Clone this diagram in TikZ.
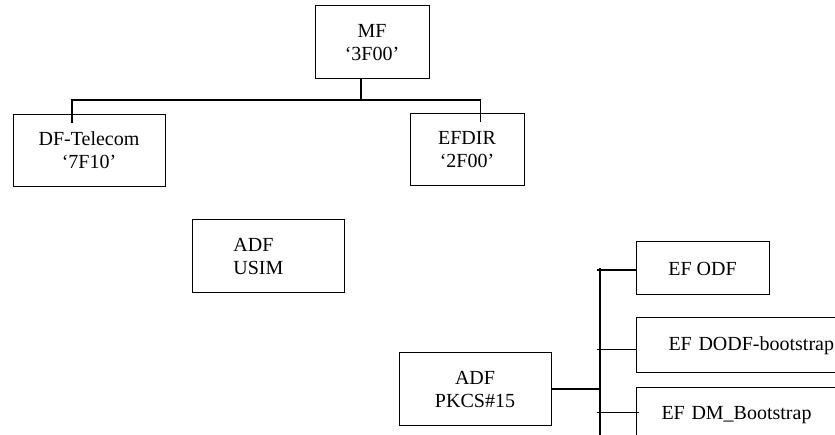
\documentclass[tikz,border=0pt]{standalone}
\usepackage{fontspec}
\setmainfont{Liberation Serif}
\usetikzlibrary{calc}

\begin{document}
\begin{tikzpicture}[x=1pt,y=-1pt,
  box/.style={draw,line width=1pt,inner sep=0pt,align=center,font=\fontsize{20}{23}\selectfont},
  link/.style={line width=1.5pt},
  branch/.style={line width=1.1pt}]
  \useasboundingbox (0,0) rectangle (835,435);
  \clip (0,0) rectangle (835,435);
  % MF 及其下两个文件
  \node[box,minimum width=114pt,minimum height=73pt] (mf) at (372,42.5) {MF\\‘3F00’};
  \node[box,minimum width=152pt,minimum height=72.5pt] (telecom) at (89,150.5) {DF-Telecom\\‘7F10’};
  \node[box,minimum width=114pt,minimum height=72pt] (efdir) at (467,150) {EFDIR\\‘2F00’};
  \coordinate (bar) at (361,100);
  \coordinate (telecomin) at ($(telecom.north west)+(59.5,9)$);
  \coordinate (efdirin) at ($(efdir.north west)+(71,9)$);
  \draw[link] (mf.south -| bar) -- (bar);
  \draw[link] (telecomin) |- (bar) -| (efdirin);
  % 两个 ADF
  \node[box,minimum width=152pt,minimum height=73pt,align=left,inner xsep=41pt,text width=70pt] (usim) at (268.4,256.5) {ADF\\USIM};
  \node[box,minimum width=152pt,minimum height=73pt] (pkcs) at (475,389.2) {ADF\\PKCS\#15};
  % PKCS#15 下的 EF
  \node[box,minimum width=133pt,minimum height=53pt] (odf) at (702.5,268.5) {EF ODF};
  \node[box,anchor=west,minimum width=250pt,minimum height=55pt,align=left,inner xsep=32pt,text width=186pt] (dodf) at (636,345.2) {EF DODF-bootstrap};
  \node[box,anchor=west,minimum width=250pt,minimum height=55pt,align=left,inner xsep=25pt,text width=200pt] (dm) at (636,415.2) {EF DM\_Bootstrap};
  \coordinate (bustop) at (600,268);
  \coordinate (busend) at (600,445);
  \draw[branch] (bustop) -- (busend);
  \draw[link] (pkcs.east) -- (pkcs.east -| bustop);
  \draw[branch] ([shift={(-3pt,-1.5pt)}]odf.west -| bustop) -- ([yshift=-1.5pt]odf.west);
  \draw[branch] ([shift={(-3pt,-4pt)}]dodf.west -| bustop) -- ([yshift=-4pt]dodf.west);
  \draw[branch] ([shift={(-3pt,3pt)}]dm.west -| bustop) -- ([shift={(3pt,3pt)}]dm.west);
\end{tikzpicture}
\end{document}
